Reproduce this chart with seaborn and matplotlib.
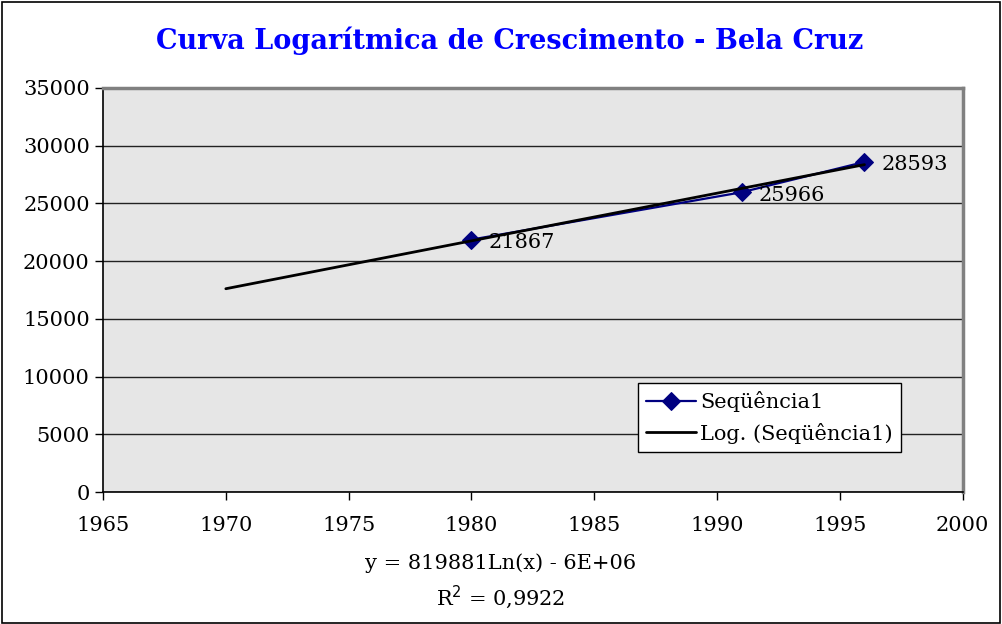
import matplotlib
matplotlib.use('Agg')
import matplotlib.pyplot as plt
import seaborn as sns
import pandas as pd
from matplotlib.patches import Rectangle

# data
years = [1980, 1991, 1996]
population = [21867, 25966, 28593]
trend_years = [1970, 1980, 1991, 1996]
trend_values = [17610, 21760, 26300, 28360]
x_ticks = [1965, 1970, 1975, 1980, 1985, 1990, 1995, 2000]
y_ticks = [0, 5000, 10000, 15000, 20000, 25000, 30000, 35000]

df = pd.DataFrame({'Ano': years, 'Pop': population})
trend = pd.DataFrame({'Ano': trend_years, 'Pop': trend_values})

sns.set_style('white')
plt.rcParams['font.family'] = ['DejaVu Serif']
plt.rcParams['text.color'] = 'black'
plt.rcParams['xtick.color'] = 'black'
plt.rcParams['ytick.color'] = 'black'

fig = plt.figure(figsize=(10.02, 6.24), dpi=100)
ax = fig.add_axes([0.1028, 0.2115, 0.858, 0.6475])
ax.set_facecolor('#e6e6e6')

# outer chart border
fig.patches.append(Rectangle((0.002, 0.002), 0.996, 0.995, transform=fig.transFigure,
                             fill=False, edgecolor='black', linewidth=1.2))

sns.lineplot(data=df, x='Ano', y='Pop', ax=ax, color='#000080', marker='D',
             markersize=9, markeredgecolor='#000080', linewidth=1.6,
             label='Seqüência1', zorder=3)
sns.lineplot(data=trend, x='Ano', y='Pop', ax=ax, color='black', linewidth=2,
             label='Log. (Seqüência1)', zorder=4)

for x, y in zip(years, population):
    ax.annotate(str(y), (x, y), xytext=(12, -2), textcoords='offset points',
                fontsize=15, va='center', ha='left', color='black')

ax.set_xlim(1965, 2000)
ax.set_ylim(0, 35000)
ax.set_xticks(x_ticks)
ax.set_yticks(y_ticks)
ax.tick_params(axis='both', labelsize=15, direction='out', length=6, width=1,
               color='black', labelcolor='black', bottom=True, left=True)
ax.tick_params(axis='x', pad=11)
ax.yaxis.grid(True, color='#222222', linewidth=1)
ax.set_axisbelow(True)
ax.set_xlabel('')
ax.set_ylabel('')

for side in ['top', 'right']:
    ax.spines[side].set_visible(True)
    ax.spines[side].set_color('#808080')
    ax.spines[side].set_linewidth(2.5)
for side in ['left', 'bottom']:
    ax.spines[side].set_color('black')
    ax.spines[side].set_linewidth(1.2)

leg = ax.legend(loc='upper left', bbox_to_anchor=(0.622, 0.27), fontsize=15,
                frameon=True, fancybox=False, framealpha=1, edgecolor='black',
                borderpad=0.4, handlelength=2.4, handletextpad=0.2,
                labelspacing=0.5, borderaxespad=0)
leg.get_frame().set_linewidth(1)
for t in leg.get_texts():
    t.set_color('black')

fig.text(0.509, 0.935, 'Curva Logarítmica de Crescimento - Bela Cruz',
         ha='center', va='center', fontsize=19.5, fontweight='bold', color='#0000ff')
fig.text(0.5, 0.098, 'y = 819881Ln(x) - 6E+06', ha='center', va='center', fontsize=15)
fig.text(0.5, 0.043, 'R$^2$ = 0,9922', ha='center', va='center', fontsize=15)

fig.savefig('out.png', dpi=100)
